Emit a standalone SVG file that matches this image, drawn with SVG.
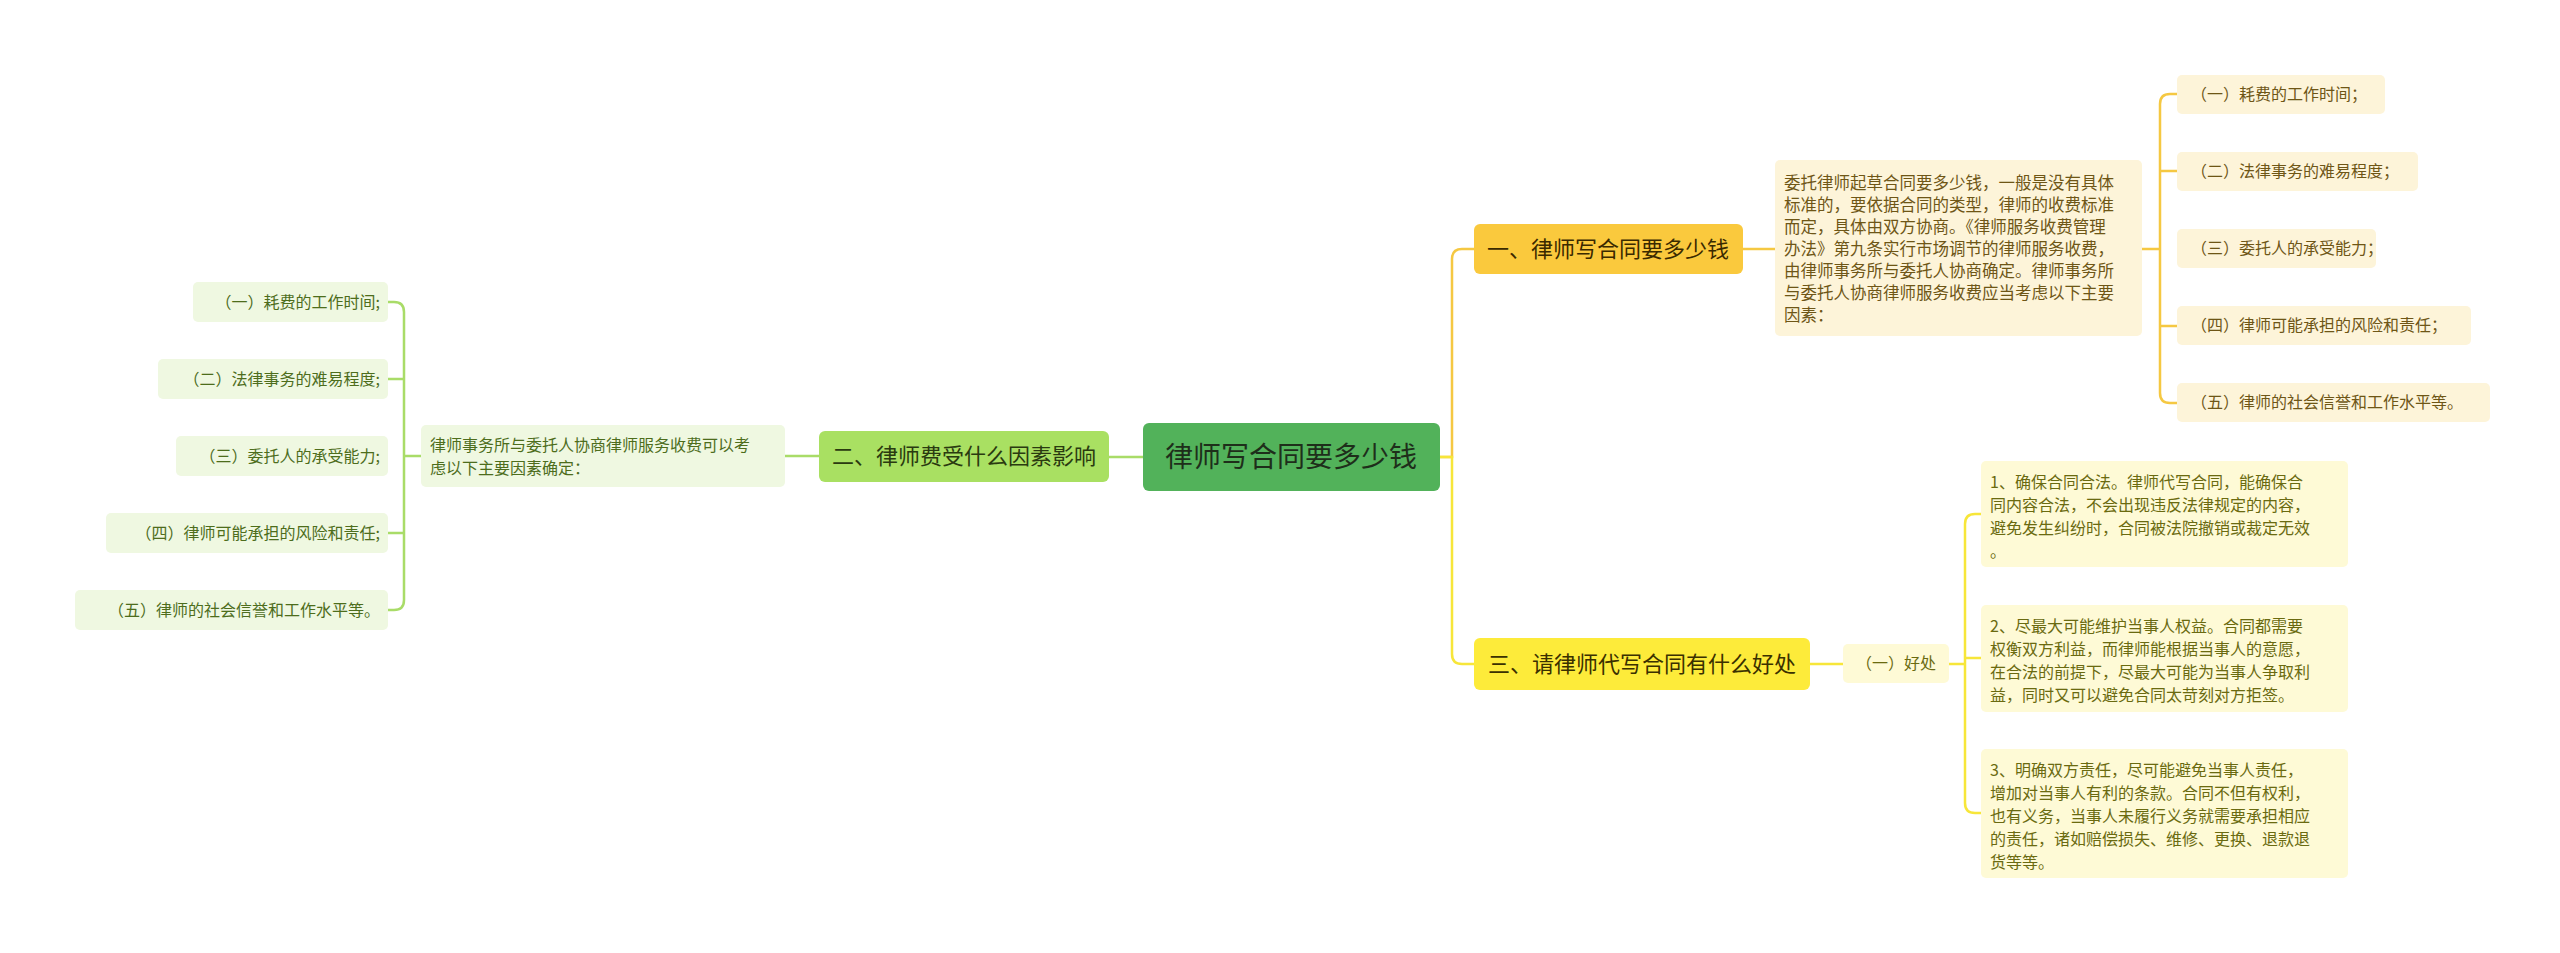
<svg xmlns="http://www.w3.org/2000/svg" width="2560" height="953" viewBox="0 0 2560 953">
<style>
text{font-family:"Noto Sans CJK SC","Noto Sans",sans-serif}
.c{fill:none;stroke-width:2.5}
.y{stroke:#f5c842}.l{stroke:#f7e63a}.g{stroke:#a9dc68}
.lf{font-size:16px}
.ro{fill:#fdf4d9}.rl{fill:#fefad6}.gl{fill:#eff8e1}
.tr{fill:#6e5616}.tl{fill:#6a6a10}.tg{fill:#4d6d1c}
</style>
<rect width="2560" height="953" fill="#fff"/>
<g id="connectors">
<path class="c y" d="M1440 457H1452V259Q1452 249 1462 249H1474"/>
<path class="c l" d="M1440 457H1452V654Q1452 664 1462 664H1474"/>
<path class="c y" d="M1743 249H1775"/>
<path class="c y" d="M2142 249H2160M2177 94H2170Q2160 94 2160 104V393Q2160 403 2170 403H2177M2160 171H2177M2160 326H2177"/>
<path class="c l" d="M1810 664H1843"/>
<path class="c l" d="M1949 664H1965M1981 514H1975Q1965 514 1965 524V803Q1965 813 1975 813H1981M1965 658H1981"/>
<path class="c g" d="M1143 457H1109"/>
<path class="c g" d="M819 456H785"/>
<path class="c g" d="M421 456H404M388 302H394Q404 302 404 312V600Q404 610 394 610H388M404 379H388M404 533H388"/>
</g>
<g id="root"><rect x="1143" y="423" width="297" height="68" rx="6" fill="#52b25a"/><text x="1291" y="467" font-size="28" text-anchor="middle" fill="#1e2e1a">律师写合同要多少钱</text></g>
<g id="b1"><rect x="1474" y="224" width="269" height="50" rx="6" fill="#fac93d"/><text x="1608" y="257" font-size="22" text-anchor="middle" fill="#3a2a00">一、律师写合同要多少钱</text></g>
<g id="d1"><rect x="1775" y="160" width="367" height="176" rx="5" class="ro"/>
<text class="tr" font-size="16.5" x="1784"><tspan y="189">委托律师起草合同要多少钱，一般是没有具体</tspan><tspan x="1784" y="211">标准的，要依据合同的类型，律师的收费标准</tspan><tspan x="1784" y="233">而定，具体由双方协商。《律师服务收费管理</tspan><tspan x="1784" y="255">办法》第九条实行市场调节的律师服务收费，</tspan><tspan x="1784" y="277">由律师事务所与委托人协商确定。律师事务所</tspan><tspan x="1784" y="299">与委托人协商律师服务收费应当考虑以下主要</tspan><tspan x="1784" y="321">因素：</tspan></text></g>
<g id="r1"><rect x="2177" y="75" width="208" height="39" rx="5" class="ro"/><text class="lf tr" x="2191" y="100">（一）耗费的工作时间；</text></g>
<g id="r2"><rect x="2177" y="152" width="241" height="39" rx="5" class="ro"/><text class="lf tr" x="2191" y="177">（二）法律事务的难易程度；</text></g>
<g id="r3"><rect x="2177" y="229" width="199" height="39" rx="5" class="ro"/><text class="lf tr" x="2191" y="254">（三）委托人的承受能力；</text></g>
<g id="r4"><rect x="2177" y="306" width="294" height="39" rx="5" class="ro"/><text class="lf tr" x="2191" y="331">（四）律师可能承担的风险和责任；</text></g>
<g id="r5"><rect x="2177" y="383" width="313" height="39" rx="5" class="ro"/><text class="lf tr" x="2191" y="408">（五）律师的社会信誉和工作水平等。</text></g>
<g id="b3"><rect x="1474" y="638" width="336" height="52" rx="6" fill="#fdeb3a"/><text x="1642" y="672" font-size="22" text-anchor="middle" fill="#3a3000">三、请律师代写合同有什么好处</text></g>
<g id="h"><rect x="1843" y="644" width="106" height="39" rx="5" class="rl"/><text class="lf tl" x="1896" y="669" text-anchor="middle">（一）好处</text></g>
<g id="p1"><rect x="1981" y="461" width="367" height="106" rx="5" class="rl"/><text class="lf tl" x="1990"><tspan y="488">1、确保合同合法。律师代写合同，能确保合</tspan><tspan x="1990" y="511">同内容合法，不会出现违反法律规定的内容，</tspan><tspan x="1990" y="534">避免发生纠纷时，合同被法院撤销或裁定无效</tspan><tspan x="1990" y="557">。</tspan></text></g>
<g id="p2"><rect x="1981" y="605" width="367" height="107" rx="5" class="rl"/><text class="lf tl" x="1990"><tspan y="632">2、尽最大可能维护当事人权益。合同都需要</tspan><tspan x="1990" y="655">权衡双方利益，而律师能根据当事人的意愿，</tspan><tspan x="1990" y="678">在合法的前提下，尽最大可能为当事人争取利</tspan><tspan x="1990" y="701">益，同时又可以避免合同太苛刻对方拒签。</tspan></text></g>
<g id="p3"><rect x="1981" y="749" width="367" height="129" rx="5" class="rl"/><text class="lf tl" x="1990"><tspan y="776">3、明确双方责任，尽可能避免当事人责任，</tspan><tspan x="1990" y="799">增加对当事人有利的条款。合同不但有权利，</tspan><tspan x="1990" y="822">也有义务，当事人未履行义务就需要承担相应</tspan><tspan x="1990" y="845">的责任，诸如赔偿损失、维修、更换、退款退</tspan><tspan x="1990" y="868">货等等。</tspan></text></g>
<g id="b2"><rect x="819" y="431" width="290" height="51" rx="6" fill="#a9e062"/><text x="964" y="464" font-size="22" text-anchor="middle" fill="#2a3a10">二、律师费受什么因素影响</text></g>
<g id="d2"><rect x="421" y="425" width="364" height="62" rx="5" class="gl"/><text class="lf tg" x="430"><tspan y="451">律师事务所与委托人协商律师服务收费可以考</tspan><tspan x="430" y="474">虑以下主要因素确定：</tspan></text></g>
<g id="l1"><rect x="193" y="282" width="195" height="40" rx="5" class="gl"/><text class="lf tg" x="380" y="308" text-anchor="end">（一）耗费的工作时间;</text></g>
<g id="l2"><rect x="158" y="359" width="230" height="40" rx="5" class="gl"/><text class="lf tg" x="380" y="385" text-anchor="end">（二）法律事务的难易程度;</text></g>
<g id="l3"><rect x="176" y="436" width="212" height="40" rx="5" class="gl"/><text class="lf tg" x="380" y="462" text-anchor="end">（三）委托人的承受能力;</text></g>
<g id="l4"><rect x="106" y="513" width="282" height="40" rx="5" class="gl"/><text class="lf tg" x="380" y="539" text-anchor="end">（四）律师可能承担的风险和责任;</text></g>
<g id="l5"><rect x="75" y="590" width="313" height="40" rx="5" class="gl"/><text class="lf tg" x="380" y="616" text-anchor="end">（五）律师的社会信誉和工作水平等。</text></g>
</svg>
